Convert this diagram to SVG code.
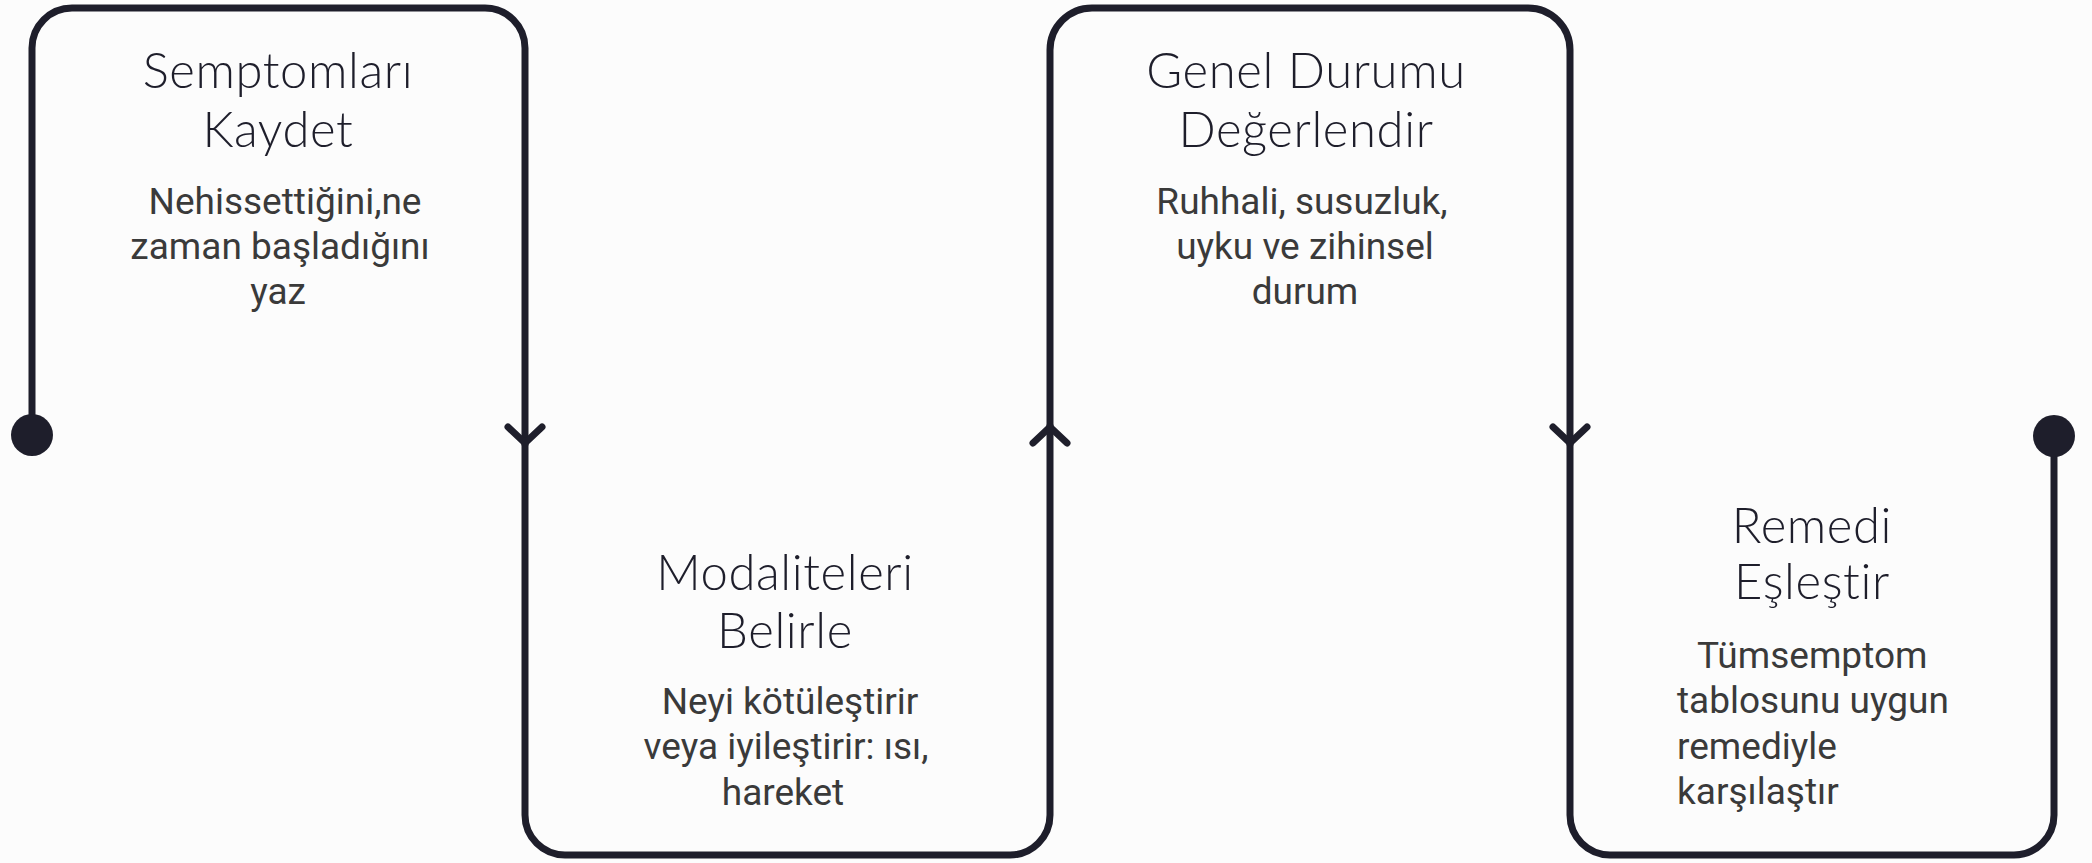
<svg xmlns="http://www.w3.org/2000/svg" width="2092" height="863" viewBox="0 0 2092 863">
<style>
.frame{fill:none;stroke:#1e1e2b;stroke-width:7;stroke-linecap:round;stroke-linejoin:round}
.chev{fill:none;stroke:#1e1e2b;stroke-width:7;stroke-linecap:round;stroke-linejoin:round}
.dot{fill:#1e1e2b}
.title{font-family:Lato,"Noto Sans",sans-serif;font-weight:300;font-size:49px;letter-spacing:0.6px;fill:#1e1e2b;text-anchor:middle}
.body{font-family:Roboto,"Liberation Sans",sans-serif;font-weight:400;font-size:37px;fill:#3a3a3a;text-anchor:middle}
.left{text-anchor:start}
</style>
<rect width="2092" height="863" fill="#fcfcfc"/>
<g id="node1">
<path class="frame" d="M32 435 V48 A40 40 0 0 1 72 8 H485 A40 40 0 0 1 525 48 V444"/>
<text class="title" x="278" y="88">Semptomları</text>
<text class="title" x="278" y="147">Kaydet</text>
<text class="body" x="285" y="214">Nehissettiğini,ne</text>
<text class="body" x="280" y="259">zaman başladığını</text>
<text class="body" x="278" y="304">yaz</text>
</g>
<g id="node2">
<path class="frame" d="M525 444 V815 A40 40 0 0 0 565 855 H1010 A40 40 0 0 0 1050 815 V426"/>
<text class="title" x="785" y="590">Modaliteleri</text>
<text class="title" x="785" y="648">Belirle</text>
<text class="body" x="790" y="714">Neyi kötüleştirir</text>
<text class="body" x="786" y="759">veya iyileştirir: ısı,</text>
<text class="body" x="783" y="805">hareket</text>
</g>
<g id="node3">
<path class="frame" d="M1050 426 V50 A42 42 0 0 1 1092 8 H1528 A42 42 0 0 1 1570 50 V444"/>
<text class="title" x="1306" y="88">Genel Durumu</text>
<text class="title" x="1306" y="147">Değerlendir</text>
<text class="body" x="1302" y="214">Ruhhali, susuzluk,</text>
<text class="body" x="1305" y="259">uyku ve zihinsel</text>
<text class="body" x="1305" y="304">durum</text>
</g>
<g id="node4">
<path class="frame" d="M1570 444 V815 A40 40 0 0 0 1610 855 H2014 A40 40 0 0 0 2054 815 V436"/>
<text class="title" x="1812" y="543">Remedi</text>
<text class="title" x="1812" y="599">Eşleştir</text>
<text class="body left" x="1697" y="668">Tümsemptom</text>
<text class="body left" x="1677" y="713">tablosunu uygun</text>
<text class="body left" x="1677" y="759">remediyle</text>
<text class="body left" x="1677" y="804">karşılaştır</text>
</g>
<g id="connectors">
<circle class="dot" cx="32" cy="435" r="21"/>
<circle class="dot" cx="2054" cy="436" r="21"/>
<path class="chev" d="M508 427 L525 443 L542 427"/>
<path class="chev" d="M1033 443 L1050 427 L1067 443"/>
<path class="chev" d="M1553 427 L1570 443 L1587 427"/>
</g>
</svg>
